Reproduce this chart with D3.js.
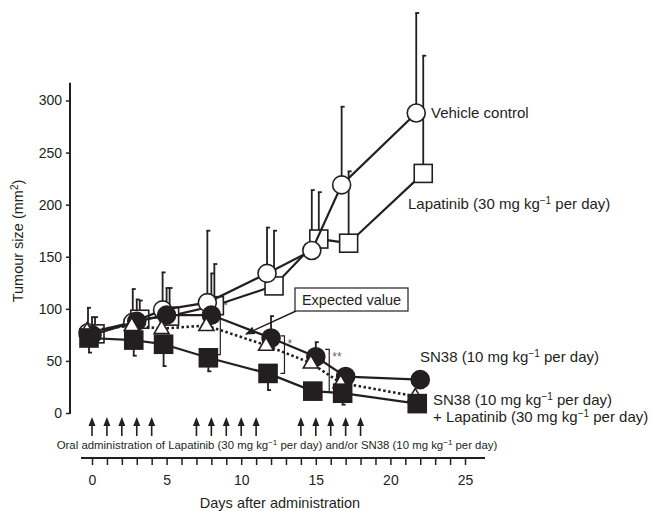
<!DOCTYPE html>
<html>
<head>
<meta charset="utf-8">
<script src="https://cdn.jsdelivr.net/npm/d3@7"></script>
<style>
    body { margin: 0; background: #fff; }
    text { font-family: "Liberation Sans", Arial, sans-serif; fill: #231f20; }
</style>
</head>
<body>
<div id="chart"></div>
<script>

// days on which tumours were measured
const days = [0, 3, 5, 8, 12, 15, 17, 22];

// mean tumour size (mm2) and the end of the error bar, per group
const vehicleMean = [77, 87, 99, 106, 134, 156, 219, 288];
const vehicleErr = [101, 119, 135, 175, 178, 214, 294, 384];
const lapatinibMean = [76, 90, 93, 103, 122, 167, 163, 230];
const lapatinibErr = [92, 108, 120, 143, 175, 212, 232, 343];
const sn38Mean = [75, 88, 94, 94, 72, 54, 35, 32];
const sn38Err = [92, 109, 120, 134, 93, 68, 38, 34];
const comboMean = [72, 70, 66, 53, 38, 21, 19, 9];
const comboErr = [58, 55, 45, 40, 22, 13, 8, 9];
const expectedMean = [79, 84, 81, 84, 65, 48, 29, 16];

// dosing days (arrows)
const doseDays = [0, 1, 2, 3, 4, 7, 8, 9, 10, 11, 14, 15, 16, 17, 18];

// significance brackets: day position, top / bottom value, label
const sigDays = [8.6, 12.9, 15.9];
const sigTop = [110, 74, 61];
const sigBottom = [56, 38, 20];
const sigLabels = ["*", "*", "**"];

const yTicks = [0, 50, 100, 150, 200, 250, 300];
const xTicks = d3.range(0, 26);
const xLabelTicks = [0, 5, 10, 15, 20, 25];


class TumourVis {
    constructor(parentElement) {
        this.parentElement = parentElement;
        this.initVis();
    }

    initVis() {
        let vis = this;

        vis.width = 652;
        vis.height = 511;
        vis.fontSize = 14.5;

        vis.svg = d3.select("#" + vis.parentElement).append("svg")
            .attr("width", vis.width)
            .attr("height", vis.height);

        vis.x = d3.scaleLinear().domain([0, 25]).range([92, 465]);
        vis.y = d3.scaleLinear().domain([0, 300]).range([413, 100.5]);

        // marker styles + small horizontal dodge (px) like the original figure
        vis.series = [
            {mean: lapatinibMean, err: lapatinibErr, shape: "square", fill: "#fff", dx: 3, dash: null},
            {mean: vehicleMean, err: vehicleErr, shape: "circle", fill: "#fff", dx: -4, dash: null},
            {mean: sn38Mean, err: sn38Err, shape: "circle", fill: "#231f20", dx: 0, dash: null},
            {mean: expectedMean, err: null, shape: "triangle", fill: "#fff", dx: -5, dash: "2.5,2.5"},
            {mean: comboMean, err: comboErr, shape: "square", fill: "#231f20", dx: -3, dash: null}
        ];

        vis.updateVis();
    }

    updateVis() {
        let vis = this;

        // y axis
        let yAxis = d3.axisLeft(vis.y).tickValues(yTicks).tickSize(4).tickPadding(4);
        let yg = vis.svg.append("g")
            .attr("transform", "translate(70,0)")
            .call(yAxis);
        yg.select(".domain").remove();
        yg.append("line")
            .attr("x1", 0).attr("x2", 0)
            .attr("y1", vis.y(0) + 1).attr("y2", vis.y(317))
            .attr("stroke", "#231f20").attr("stroke-width", 2);
        yg.selectAll(".tick line").attr("stroke", "#231f20").attr("stroke-width", 1.5);
        yg.selectAll(".tick text").attr("font-size", 14).style("fill", "#231f20");

        let ylab = vis.svg.append("text")
            .attr("transform", "translate(23,241) rotate(-90)")
            .attr("text-anchor", "middle")
            .attr("font-size", vis.fontSize);
        ylab.append("tspan").text("Tumour size (mm");
        ylab.append("tspan").attr("dy", -5).attr("font-size", 10).text("2");
        ylab.append("tspan").attr("dy", 5).text(")");

        // error bars
        vis.series.forEach(s => {
            if (!s.err) return;
            days.forEach((d, i) => {
                let cx = vis.x(d) + s.dx;
                vis.svg.append("line")
                    .attr("x1", cx).attr("x2", cx)
                    .attr("y1", vis.y(s.mean[i])).attr("y2", vis.y(s.err[i]))
                    .attr("stroke", "#231f20").attr("stroke-width", 1.8);
                vis.svg.append("line")
                    .attr("x1", cx - 1).attr("x2", cx + 3)
                    .attr("y1", vis.y(s.err[i])).attr("y2", vis.y(s.err[i]))
                    .attr("stroke", "#231f20").attr("stroke-width", 1.8);
            });
        });

        // significance brackets
        sigDays.forEach((d, i) => {
            let bx = vis.x(d);
            vis.svg.append("path")
                .attr("d", `M${bx - 4},${vis.y(sigTop[i])} H${bx} V${vis.y(sigBottom[i])} H${bx - 4}`)
                .attr("fill", "none")
                .attr("stroke", "#231f20")
                .attr("stroke-width", 1.2);
            vis.svg.append("text")
                .attr("x", bx + 3)
                .attr("y", vis.y(sigTop[i]) + 12)
                .attr("font-size", 12)
                .style("fill", "#666")
                .text(sigLabels[i]);
        });

        let line = d3.line()
            .x(d => d.x)
            .y(d => d.y);

        // lines and markers, one series after the other
        vis.series.forEach(s => {
            let pts = days.map((d, i) => ({x: vis.x(d) + s.dx, y: vis.y(s.mean[i])}));

            vis.svg.append("path")
                .datum(pts)
                .attr("d", line)
                .attr("fill", "none")
                .attr("stroke", "#231f20")
                .attr("stroke-width", s.dash ? 2.6 : 2.2)
                .attr("stroke-dasharray", s.dash);

            pts.forEach(p => {
                let m;
                if (s.shape === "circle") {
                    m = vis.svg.append("circle").attr("cx", p.x).attr("cy", p.y).attr("r", 9);
                } else if (s.shape === "square") {
                    m = vis.svg.append("rect").attr("x", p.x - 9).attr("y", p.y - 9)
                        .attr("width", 18).attr("height", 18);
                } else {
                    m = vis.svg.append("path")
                        .attr("d", `M${p.x},${p.y - 8} L${p.x + 7.5},${p.y + 5} L${p.x - 7.5},${p.y + 5} Z`);
                }
                m.attr("fill", s.fill).attr("stroke", "#231f20").attr("stroke-width", 1.6);
            });
        });

        // "Expected value" callout
        vis.svg.append("defs").append("marker")
            .attr("id", "head")
            .attr("viewBox", "0 0 10 10")
            .attr("refX", 9).attr("refY", 5)
            .attr("markerWidth", 7).attr("markerHeight", 7)
            .attr("orient", "auto")
            .append("path")
            .attr("d", "M0,1 L10,5 L0,9 Z")
            .attr("fill", "#231f20");
        vis.svg.append("line")
            .attr("x1", 296).attr("y1", 311)
            .attr("x2", 246).attr("y2", 334)
            .attr("stroke", "#231f20").attr("stroke-width", 1.4)
            .attr("marker-end", "url(#head)");
        vis.svg.append("rect")
            .attr("x", 295).attr("y", 288)
            .attr("width", 113).attr("height", 23)
            .attr("fill", "#fff").attr("stroke", "#231f20").attr("stroke-width", 1.2);
        vis.svg.append("text")
            .attr("x", 351.5).attr("y", 305)
            .attr("text-anchor", "middle")
            .attr("font-size", vis.fontSize)
            .text("Expected value");

        // series labels
        vis.addLabel(431, 118, ["Vehicle control"]);
        vis.addLabel(408, 209, ["Lapatinib (30 mg kg", "\u22121", " per day)"]);
        vis.addLabel(420, 362, ["SN38 (10 mg kg", "\u22121", " per day)"]);
        vis.addLabel(433, 405, ["SN38 (10 mg kg", "\u22121", " per day)"]);
        vis.addLabel(433, 422, ["+ Lapatinib (30 mg kg", "\u22121", " per day)"]);

        // dosing arrows
        doseDays.forEach(d => {
            vis.svg.append("line")
                .attr("x1", vis.x(d)).attr("x2", vis.x(d))
                .attr("y1", 436).attr("y2", 424)
                .attr("stroke", "#231f20").attr("stroke-width", 1.6);
            vis.svg.append("path")
                .attr("d", `M${vis.x(d) - 3.5},${426} L${vis.x(d)},${417} L${vis.x(d) + 3.5},${426} Z`)
                .attr("fill", "#231f20");
        });

        let dose = vis.svg.append("text")
            .attr("x", 277).attr("y", 449)
            .attr("text-anchor", "middle")
            .attr("font-size", 11.4);
        dose.append("tspan").text("Oral administration of Lapatinib (30 mg kg");
        dose.append("tspan").attr("dy", -4).attr("font-size", 8).text("\u22121");
        dose.append("tspan").attr("dy", 4).text(" per day) and/or SN38 (10 mg kg");
        dose.append("tspan").attr("dy", -4).attr("font-size", 8).text("\u22121");
        dose.append("tspan").attr("dy", 4).text(" per day)");

        // x axis (days)
        let xAxis = d3.axisBottom(vis.x)
            .tickValues(xTicks)
            .tickSize(7)
            .tickPadding(10)
            .tickFormat(d => xLabelTicks.includes(d) ? d : "");
        let xg = vis.svg.append("g")
            .attr("transform", "translate(0,458)")
            .call(xAxis);
        xg.select(".domain").remove();
        xg.append("line")
            .attr("x1", 81).attr("x2", 485)
            .attr("y1", 0).attr("y2", 0)
            .attr("stroke", "#231f20").attr("stroke-width", 2);
        xg.selectAll(".tick line").attr("stroke", "#231f20").attr("stroke-width", 1.5);
        xg.selectAll(".tick text").attr("font-size", 14).style("fill", "#231f20");

        vis.svg.append("text")
            .attr("x", 280).attr("y", 508)
            .attr("text-anchor", "middle")
            .attr("font-size", vis.fontSize)
            .text("Days after administration");
    }

    // text with an optional superscript in the middle
    addLabel(x, y, parts) {
        let vis = this;
        let t = vis.svg.append("text")
            .attr("x", x).attr("y", y)
            .attr("font-size", 15);
        t.append("tspan").text(parts[0]);
        if (parts.length > 1) {
            t.append("tspan").attr("dy", -5).attr("font-size", 10).text(parts[1]);
            t.append("tspan").attr("dy", 5).text(parts[2]);
        }
    }
}

new TumourVis("chart");
</script>
</body>
</html>
